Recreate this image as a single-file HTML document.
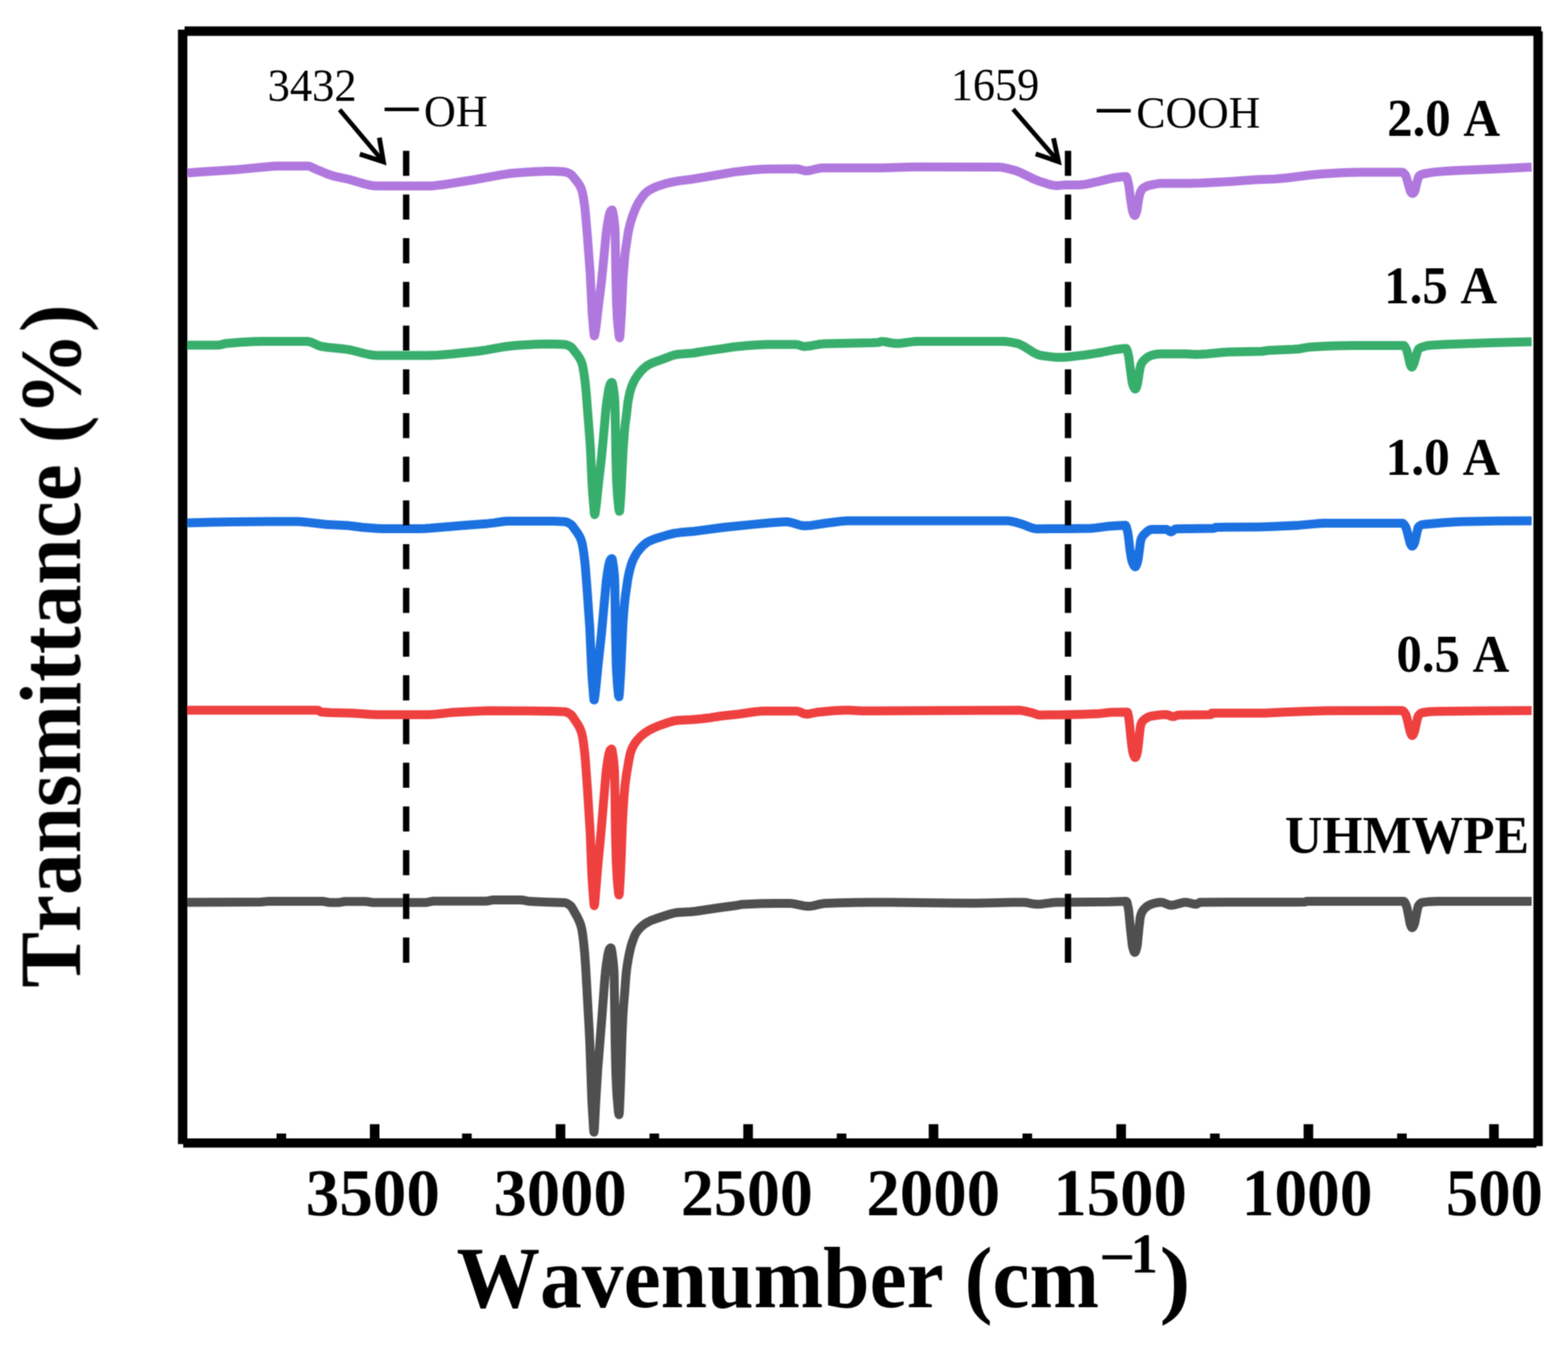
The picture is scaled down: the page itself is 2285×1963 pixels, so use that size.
<!DOCTYPE html>
<html><head><meta charset="utf-8"><title>FTIR spectra</title><style>html,body{margin:0;padding:0;background:#fff;overflow:hidden;}svg{display:block;} text{font-kerning:none;font-feature-settings:"kern" 0;}</style></head><body>
<svg width="2285" height="1963" viewBox="0 0 2285 1963">
<defs><filter id="soft" filterUnits="userSpaceOnUse" x="0" y="0" width="2285" height="1963"><feConvolveMatrix order="3" kernelMatrix="1 2 1 2 4 2 1 2 1" divisor="16" edgeMode="duplicate"/></filter></defs>
<rect width="2285" height="1963" fill="#fff"/>
<g filter="url(#soft)">
<path d="M273.0,252.0 L293.0,250.4 L340.5,247.6 L397.5,242.2 L404.5,242.0 L448.5,242.0 L450.5,242.3 L453.0,243.1 L462.5,247.6 L477.0,253.5 L484.0,255.9 L491.0,257.7 L509.0,261.5 L531.0,268.0 L540.5,270.1 L545.0,270.7 L549.5,271.0 L622.0,271.0 L628.0,270.9 L634.5,270.4 L649.0,268.7 L690.5,262.0 L730.0,254.8 L739.5,253.3 L748.5,252.3 L777.0,250.2 L797.0,249.5 L807.5,249.6 L817.5,250.1 L823.5,250.6 L827.0,251.5 L831.5,253.8 L833.5,255.4 L841.5,265.3 L844.5,269.8 L846.5,273.7 L848.0,277.7 L849.0,281.8 L850.5,289.9 L852.0,300.1 L853.0,308.7 L856.0,343.9 L860.0,397.0 L863.0,457.7 L865.5,486.4 L866.0,489.5 L866.5,488.7 L867.0,486.5 L869.0,473.1 L871.5,451.1 L876.0,414.6 L878.0,396.1 L883.0,343.8 L884.5,331.7 L887.0,316.9 L888.5,310.8 L889.5,308.1 L890.5,306.8 L891.5,306.1 L892.0,306.0 L892.5,306.9 L893.5,311.6 L895.0,321.1 L896.0,330.5 L896.5,340.3 L897.5,402.8 L898.5,443.0 L899.5,462.4 L900.5,474.9 L902.0,488.6 L902.5,491.4 L903.0,492.4 L903.5,488.9 L905.5,458.8 L907.5,414.8 L908.5,397.4 L910.5,373.2 L911.5,364.7 L915.5,338.2 L918.5,325.3 L921.5,315.7 L926.0,304.1 L928.5,298.8 L930.5,295.1 L934.0,289.7 L937.0,285.6 L940.0,282.1 L942.5,279.7 L945.5,277.6 L949.5,275.3 L954.0,273.1 L958.5,271.3 L964.0,269.4 L970.5,267.5 L977.0,265.9 L983.5,264.6 L990.5,263.4 L1006.0,261.5 L1015.0,260.1 L1070.0,250.6 L1095.0,247.7 L1112.0,246.4 L1124.0,246.2 L1160.5,246.0 L1164.0,246.5 L1171.5,248.6 L1175.0,249.0 L1180.0,248.5 L1192.5,245.5 L1195.5,245.0 L1198.0,244.8 L1284.0,244.8 L1323.5,243.5 L1335.5,243.3 L1456.0,243.4 L1460.0,243.9 L1465.0,244.8 L1480.0,248.6 L1488.0,251.8 L1505.5,260.4 L1513.0,263.6 L1529.5,268.9 L1534.0,269.9 L1538.0,270.4 L1542.5,270.4 L1553.5,269.4 L1572.5,269.5 L1578.0,269.1 L1584.0,268.1 L1601.0,264.4 L1616.5,260.6 L1622.5,259.3 L1634.0,257.7 L1641.0,257.2 L1641.5,257.5 L1642.5,259.8 L1644.0,265.8 L1645.0,270.7 L1647.5,290.0 L1650.0,306.1 L1650.5,308.0 L1652.0,312.0 L1653.0,313.7 L1653.5,314.0 L1654.0,313.8 L1655.0,312.3 L1656.5,308.0 L1657.0,305.7 L1659.0,292.0 L1661.0,282.5 L1662.5,278.8 L1664.5,275.5 L1665.5,274.4 L1667.5,273.1 L1672.0,271.0 L1675.0,270.1 L1679.5,269.1 L1687.5,267.6 L1692.0,267.3 L1733.5,267.3 L1750.5,266.8 L1790.5,264.7 L1827.5,262.1 L1859.0,260.8 L1876.0,259.3 L1907.5,255.3 L1920.0,254.0 L1929.0,253.3 L1955.5,251.8 L1969.5,251.3 L1982.0,251.0 L2043.0,251.0 L2044.0,251.2 L2045.5,252.2 L2047.0,253.8 L2048.5,255.8 L2050.0,260.0 L2055.0,278.0 L2055.5,279.0 L2057.0,281.1 L2058.0,281.9 L2058.5,282.0 L2059.0,281.9 L2060.0,281.1 L2061.5,279.0 L2062.0,277.8 L2064.5,267.0 L2066.5,259.8 L2067.5,257.2 L2068.0,256.5 L2070.0,255.0 L2072.0,254.1 L2074.0,253.5 L2081.5,252.1 L2089.5,250.9 L2098.0,250.1 L2109.0,249.3 L2128.0,248.2 L2178.0,246.3 L2232.0,243.4" fill="none" stroke="#B078DE" stroke-width="13" stroke-linejoin="round" stroke-linecap="butt"/>
<path d="M273.0,502.9 L318.5,502.9 L321.5,502.5 L327.5,500.9 L330.0,500.5 L351.0,498.7 L369.5,497.8 L381.0,497.6 L448.5,497.6 L451.0,498.0 L453.5,498.7 L464.0,503.5 L468.0,504.8 L478.0,506.3 L498.5,508.3 L507.0,509.4 L515.0,511.0 L530.5,515.0 L537.0,516.5 L543.5,517.5 L549.5,517.9 L623.5,517.9 L638.0,517.5 L648.0,516.8 L659.5,515.8 L697.0,511.7 L708.0,510.1 L736.0,505.2 L744.0,504.2 L751.0,503.5 L779.0,501.7 L799.0,501.2 L811.0,501.4 L822.5,502.0 L825.0,502.4 L827.5,503.2 L831.5,505.3 L833.5,506.9 L842.0,517.8 L845.0,522.5 L847.0,526.6 L848.5,530.9 L849.5,535.4 L851.0,544.0 L852.5,554.8 L854.0,569.3 L859.5,640.2 L860.5,655.3 L862.5,699.3 L863.5,717.5 L866.0,746.9 L866.5,750.0 L867.0,749.0 L867.5,746.4 L869.5,730.8 L872.0,706.4 L876.5,666.7 L878.5,646.4 L883.0,596.4 L884.0,587.3 L887.0,568.0 L888.0,563.5 L889.5,559.1 L890.5,557.9 L891.5,557.3 L892.0,557.5 L892.5,558.9 L893.5,564.1 L895.0,573.9 L896.0,585.1 L896.5,603.3 L897.5,665.0 L898.5,700.3 L900.0,724.6 L901.5,739.4 L902.0,743.0 L902.5,745.1 L903.0,744.9 L903.5,739.5 L905.0,717.6 L908.0,655.6 L910.0,628.4 L911.0,618.8 L913.0,604.1 L915.0,586.0 L917.5,573.3 L920.0,564.7 L921.5,560.8 L923.5,556.3 L925.5,552.6 L928.0,548.7 L931.5,544.0 L935.0,539.9 L938.5,536.4 L941.5,533.9 L943.5,532.5 L946.5,530.8 L952.5,528.1 L966.0,523.4 L978.0,518.7 L981.5,517.6 L985.0,516.8 L991.0,516.0 L1004.5,515.1 L1010.5,514.5 L1029.0,511.4 L1051.0,508.4 L1069.5,505.5 L1087.5,503.7 L1101.0,502.7 L1117.5,502.0 L1160.5,502.0 L1163.0,502.5 L1169.5,504.6 L1171.0,504.8 L1173.0,504.9 L1179.0,504.3 L1193.0,501.8 L1199.0,501.1 L1270.0,499.5 L1280.0,499.0 L1281.0,498.8 L1284.0,497.7 L1285.0,497.6 L1289.5,498.0 L1300.5,500.0 L1305.5,500.5 L1312.5,500.2 L1329.0,498.1 L1336.5,497.6 L1462.0,497.6 L1466.5,497.8 L1471.5,498.4 L1478.0,499.7 L1483.0,500.7 L1486.5,501.9 L1492.5,505.0 L1507.0,514.2 L1510.5,515.9 L1514.0,517.3 L1517.0,518.0 L1528.5,519.6 L1536.0,520.4 L1542.5,520.7 L1549.0,520.8 L1556.0,520.3 L1581.5,517.2 L1592.5,515.6 L1605.5,513.5 L1625.0,509.5 L1635.0,508.2 L1641.0,507.8 L1641.5,508.1 L1642.5,510.3 L1644.0,515.9 L1645.0,520.6 L1649.0,551.5 L1650.0,558.0 L1651.0,561.4 L1652.5,565.0 L1653.5,566.5 L1654.0,566.9 L1654.5,567.0 L1655.0,566.6 L1656.0,564.7 L1657.5,560.0 L1658.0,557.7 L1660.0,544.0 L1661.5,535.8 L1662.5,532.0 L1664.5,528.0 L1666.0,526.1 L1669.0,523.1 L1672.0,520.8 L1674.5,519.2 L1677.0,518.2 L1680.0,517.3 L1683.5,516.5 L1687.0,515.9 L1690.5,515.7 L1728.5,515.7 L1741.0,516.5 L1749.5,516.3 L1758.5,515.7 L1779.5,513.7 L1789.0,513.0 L1839.5,512.0 L1845.0,511.1 L1851.5,510.6 L1885.5,509.1 L1892.5,508.5 L1904.5,506.4 L1909.5,505.7 L1926.5,504.7 L1944.0,503.9 L1969.5,503.4 L2045.5,503.4 L2046.0,503.6 L2047.0,504.6 L2049.5,509.1 L2050.5,512.2 L2052.5,520.0 L2054.5,529.4 L2056.0,533.3 L2057.0,534.8 L2057.5,535.0 L2058.0,534.7 L2058.5,534.0 L2060.5,529.8 L2065.5,512.3 L2066.5,509.7 L2067.0,509.0 L2069.0,507.3 L2071.0,506.3 L2075.0,504.9 L2078.5,503.9 L2081.5,503.5 L2087.5,502.9 L2104.0,502.1 L2173.5,499.6 L2232.0,498.0" fill="none" stroke="#38AE6C" stroke-width="13" stroke-linejoin="round" stroke-linecap="butt"/>
<path d="M273.0,762.0 L310.0,761.1 L339.5,760.6 L394.5,760.1 L432.5,760.0 L438.5,760.3 L445.5,760.9 L475.0,764.3 L509.0,766.1 L528.0,768.5 L547.5,770.0 L558.0,770.4 L612.0,770.4 L619.0,770.2 L626.5,769.8 L678.0,765.4 L711.5,762.9 L719.0,762.1 L733.0,760.0 L739.0,759.5 L807.5,759.6 L823.0,760.3 L825.0,760.7 L827.0,761.4 L831.5,763.9 L833.5,765.7 L841.5,776.6 L844.5,781.6 L846.5,786.0 L848.0,790.5 L849.0,795.3 L850.5,804.5 L852.0,816.1 L853.0,825.9 L855.5,858.2 L859.5,915.6 L862.0,972.3 L863.0,990.0 L865.5,1019.9 L866.0,1020.1 L867.0,1014.0 L868.5,1000.6 L871.5,969.6 L876.5,923.5 L883.5,847.0 L885.0,836.1 L887.0,824.3 L888.0,820.0 L889.5,815.8 L890.5,814.6 L891.5,814.0 L892.0,814.3 L892.5,816.0 L894.5,829.7 L895.5,840.4 L896.0,852.7 L897.0,924.8 L898.0,966.8 L898.5,978.3 L899.5,994.4 L901.0,1010.8 L901.5,1014.2 L902.0,1015.5 L902.5,1012.0 L904.5,980.7 L907.5,914.2 L908.5,898.3 L910.0,880.2 L911.5,867.2 L915.0,843.1 L917.5,831.4 L920.0,822.5 L921.5,818.4 L923.5,813.9 L925.5,810.0 L928.0,805.9 L931.5,801.3 L935.0,797.2 L938.5,793.8 L941.5,791.4 L944.0,789.8 L947.5,788.0 L955.0,785.0 L973.5,779.4 L983.0,777.1 L990.5,776.1 L1011.5,774.3 L1045.5,769.7 L1055.0,768.5 L1098.5,764.1 L1123.5,761.7 L1134.5,760.9 L1143.5,760.5 L1147.5,760.5 L1151.0,761.0 L1155.0,762.0 L1166.0,765.4 L1169.5,766.1 L1172.5,766.3 L1177.5,766.1 L1182.5,765.6 L1203.0,762.5 L1221.0,760.2 L1228.0,759.4 L1234.0,759.0 L1468.5,759.0 L1473.5,759.6 L1479.0,760.8 L1490.5,764.2 L1501.0,768.4 L1504.5,769.6 L1508.0,770.4 L1511.0,770.7 L1552.5,770.5 L1590.0,770.0 L1596.5,769.4 L1614.0,767.1 L1630.0,765.9 L1640.0,765.6 L1640.5,765.9 L1641.5,768.1 L1643.5,776.0 L1644.5,782.7 L1646.5,800.0 L1648.5,812.7 L1649.5,817.4 L1651.0,821.4 L1652.5,824.4 L1653.5,825.6 L1654.5,826.0 L1655.0,825.7 L1656.0,824.0 L1658.0,818.0 L1659.0,812.0 L1662.0,789.2 L1662.5,787.0 L1663.5,784.3 L1664.5,782.3 L1666.0,780.1 L1670.5,775.7 L1672.5,774.0 L1674.5,772.7 L1676.5,771.8 L1678.0,771.5 L1699.5,771.4 L1701.0,772.0 L1705.0,774.6 L1706.5,775.0 L1708.0,774.5 L1712.0,771.3 L1713.5,770.7 L1768.5,770.0 L1769.5,769.8 L1771.5,768.5 L1775.5,768.4 L1835.0,767.9 L1856.0,767.3 L1893.5,765.4 L1919.0,763.1 L1929.0,762.5 L2043.5,762.4 L2044.5,762.8 L2046.0,764.2 L2047.5,766.4 L2049.0,769.1 L2050.5,774.1 L2055.0,791.8 L2056.5,794.7 L2057.5,795.8 L2058.0,796.0 L2058.5,795.8 L2059.5,794.8 L2061.0,792.0 L2061.5,790.7 L2066.5,769.0 L2067.0,768.0 L2069.0,766.2 L2070.5,765.3 L2072.5,764.6 L2077.5,763.9 L2106.0,761.6 L2127.5,760.3 L2180.5,759.3 L2232.0,759.0" fill="none" stroke="#1A71E0" stroke-width="13" stroke-linejoin="round" stroke-linecap="butt"/>
<path d="M273.0,1034.9 L462.5,1034.9 L464.0,1035.3 L467.5,1037.5 L469.0,1037.8 L481.5,1038.5 L512.5,1039.2 L538.5,1041.1 L548.5,1041.5 L626.0,1041.4 L636.0,1040.8 L655.5,1038.6 L663.5,1037.9 L693.0,1036.4 L712.5,1035.8 L756.5,1035.9 L806.0,1036.5 L823.0,1037.2 L825.0,1037.6 L827.0,1038.4 L831.5,1041.1 L832.5,1041.9 L833.5,1043.0 L841.5,1054.8 L844.5,1060.2 L846.5,1064.8 L848.0,1069.6 L849.0,1074.6 L850.5,1084.3 L852.0,1096.6 L853.0,1106.9 L856.0,1148.9 L860.0,1212.3 L862.0,1263.3 L863.0,1283.9 L865.5,1317.6 L866.0,1319.9 L866.5,1317.7 L867.0,1313.0 L871.0,1263.7 L876.5,1205.4 L883.0,1127.7 L884.5,1115.6 L886.5,1102.8 L887.5,1098.1 L889.0,1093.5 L890.0,1092.3 L891.0,1091.6 L891.5,1091.9 L892.0,1093.5 L893.0,1099.4 L894.5,1110.6 L895.5,1123.8 L896.0,1147.1 L897.0,1216.3 L898.0,1254.8 L899.5,1281.8 L901.0,1298.4 L901.5,1302.2 L902.0,1304.3 L902.5,1302.8 L904.0,1277.3 L905.0,1255.2 L907.0,1200.9 L908.0,1180.9 L909.5,1158.7 L911.0,1143.0 L913.0,1128.2 L916.5,1107.7 L918.0,1100.2 L919.0,1096.2 L920.5,1092.1 L922.5,1087.8 L924.5,1084.2 L926.5,1081.3 L929.5,1077.6 L933.0,1073.9 L936.5,1070.7 L940.0,1068.0 L943.5,1065.7 L947.5,1063.4 L952.0,1061.1 L956.5,1059.1 L962.5,1056.8 L973.5,1053.0 L978.0,1051.6 L982.0,1050.6 L988.0,1049.8 L1008.0,1048.8 L1022.5,1047.5 L1032.5,1046.3 L1050.5,1043.5 L1076.0,1040.8 L1100.0,1037.3 L1107.0,1036.6 L1113.0,1036.3 L1161.5,1036.3 L1164.5,1037.0 L1172.0,1040.2 L1175.0,1040.7 L1180.0,1040.2 L1189.0,1038.4 L1193.0,1037.8 L1214.5,1035.7 L1229.5,1034.9 L1238.0,1035.0 L1255.5,1035.9 L1263.0,1036.0 L1483.0,1034.9 L1488.0,1035.3 L1494.0,1036.4 L1506.0,1039.3 L1512.5,1041.6 L1515.0,1042.0 L1544.5,1041.7 L1576.5,1040.9 L1602.5,1039.9 L1617.0,1038.2 L1621.5,1037.9 L1642.5,1037.8 L1643.0,1037.9 L1643.5,1039.0 L1644.5,1043.7 L1645.5,1050.0 L1648.0,1075.0 L1649.5,1088.0 L1650.5,1094.8 L1651.0,1097.0 L1652.5,1101.4 L1653.5,1103.4 L1654.0,1103.9 L1654.5,1104.0 L1655.0,1103.6 L1656.0,1101.4 L1657.5,1096.0 L1658.0,1093.0 L1661.5,1061.4 L1662.5,1056.0 L1664.0,1052.6 L1665.5,1050.5 L1667.0,1049.0 L1670.5,1046.5 L1673.5,1044.9 L1677.0,1043.7 L1687.0,1042.2 L1694.0,1041.5 L1700.0,1041.4 L1702.0,1041.9 L1707.0,1043.9 L1709.5,1044.3 L1711.5,1044.0 L1716.0,1042.4 L1718.0,1042.0 L1764.0,1041.4 L1764.5,1041.4 L1765.5,1039.6 L1766.0,1039.2 L1843.0,1039.2 L1867.5,1037.9 L1898.0,1036.7 L1933.5,1035.7 L2043.5,1035.6 L2044.5,1036.0 L2046.0,1037.3 L2048.0,1040.2 L2049.0,1042.1 L2050.5,1047.4 L2055.0,1066.6 L2057.0,1071.1 L2057.5,1071.8 L2058.0,1072.0 L2058.5,1071.8 L2059.5,1070.4 L2061.5,1065.5 L2065.5,1047.5 L2066.5,1044.0 L2067.5,1042.4 L2069.5,1040.3 L2071.0,1039.2 L2073.0,1038.5 L2082.0,1037.2 L2092.5,1036.7 L2157.0,1035.9 L2232.0,1035.6" fill="none" stroke="#EF3F40" stroke-width="13" stroke-linejoin="round" stroke-linecap="butt"/>
<path d="M273.0,1314.9 L332.5,1314.8 L380.0,1314.5 L390.0,1313.6 L470.0,1313.6 L472.5,1313.8 L479.0,1315.0 L482.0,1315.2 L494.5,1315.2 L501.0,1314.0 L503.0,1313.8 L532.5,1313.8 L535.0,1314.0 L541.5,1315.0 L544.0,1315.2 L620.0,1315.2 L622.5,1315.0 L629.0,1313.6 L631.5,1313.3 L708.0,1313.3 L710.5,1313.1 L717.0,1311.7 L719.5,1311.4 L758.0,1311.4 L761.5,1311.7 L769.0,1313.2 L776.0,1313.7 L792.0,1314.5 L823.0,1315.5 L825.0,1316.0 L827.0,1316.9 L829.0,1318.2 L831.5,1320.2 L832.5,1321.1 L833.5,1322.5 L841.5,1336.7 L844.5,1343.2 L846.5,1348.8 L848.0,1355.0 L849.0,1361.4 L850.5,1373.4 L852.0,1388.8 L853.5,1409.7 L858.5,1499.1 L859.5,1518.9 L862.5,1604.8 L865.0,1645.6 L865.5,1650.0 L866.0,1646.9 L866.5,1639.0 L868.0,1608.5 L871.0,1559.2 L876.0,1497.2 L881.5,1425.0 L882.5,1414.4 L884.0,1402.7 L886.0,1390.3 L887.5,1384.6 L888.5,1382.5 L889.5,1381.6 L890.0,1381.3 L890.5,1381.6 L891.0,1383.1 L892.0,1389.1 L893.5,1400.6 L894.5,1411.1 L895.0,1420.4 L896.5,1522.3 L897.5,1564.7 L899.0,1595.2 L901.0,1618.6 L901.5,1622.4 L902.0,1624.4 L902.5,1622.1 L903.5,1600.6 L904.5,1573.8 L906.5,1507.6 L907.5,1485.2 L908.5,1468.2 L910.5,1444.5 L912.0,1423.9 L913.0,1414.0 L914.0,1406.6 L915.5,1397.6 L917.5,1387.6 L919.5,1379.2 L921.0,1374.1 L923.0,1368.3 L925.0,1363.3 L926.5,1360.3 L928.5,1357.3 L931.5,1353.7 L934.5,1350.6 L937.5,1348.0 L940.5,1345.9 L943.5,1344.1 L947.0,1342.3 L951.0,1340.6 L956.0,1338.8 L974.5,1332.8 L980.5,1331.0 L984.0,1330.3 L987.5,1329.8 L1006.0,1328.8 L1013.5,1328.0 L1049.0,1322.7 L1071.5,1319.8 L1081.5,1317.9 L1109.0,1316.8 L1131.5,1316.4 L1151.0,1316.4 L1157.0,1317.1 L1171.5,1320.1 L1175.0,1320.6 L1178.0,1320.7 L1181.0,1320.5 L1184.5,1320.1 L1197.0,1317.2 L1202.5,1316.4 L1223.0,1315.7 L1246.5,1315.2 L1271.0,1314.9 L1296.5,1315.0 L1383.5,1316.1 L1416.5,1316.3 L1435.0,1316.1 L1475.0,1315.1 L1491.0,1314.9 L1495.0,1315.2 L1506.0,1317.3 L1511.0,1317.8 L1518.0,1317.4 L1532.5,1315.5 L1539.0,1314.9 L1617.5,1314.2 L1641.0,1313.4 L1641.5,1313.5 L1642.0,1314.2 L1642.5,1315.6 L1644.0,1322.3 L1645.0,1328.4 L1647.5,1355.0 L1650.0,1377.4 L1650.5,1380.0 L1652.0,1385.3 L1653.0,1387.5 L1653.5,1388.0 L1654.0,1387.9 L1655.0,1386.3 L1656.0,1383.1 L1657.0,1379.0 L1657.5,1375.8 L1659.5,1355.0 L1661.5,1337.5 L1662.5,1333.4 L1664.0,1329.5 L1665.5,1326.9 L1667.5,1324.5 L1670.5,1321.7 L1673.5,1319.6 L1676.5,1318.2 L1680.0,1317.0 L1684.5,1315.8 L1688.5,1315.1 L1692.0,1314.9 L1694.0,1315.1 L1696.5,1315.9 L1703.0,1318.6 L1705.0,1319.1 L1706.5,1319.2 L1711.0,1318.7 L1722.5,1315.6 L1725.0,1315.1 L1727.5,1314.9 L1731.0,1315.2 L1739.0,1317.3 L1742.5,1317.8 L1744.0,1317.6 L1748.0,1315.4 L1750.0,1314.9 L1884.0,1314.7 L1902.0,1314.5 L1904.0,1313.4 L2045.5,1313.4 L2046.5,1314.0 L2047.5,1315.6 L2049.0,1318.8 L2050.0,1321.5 L2051.0,1325.8 L2055.0,1346.4 L2055.5,1348.0 L2056.5,1350.3 L2057.5,1351.8 L2058.0,1352.0 L2058.5,1351.8 L2059.5,1350.4 L2061.0,1347.0 L2061.5,1345.4 L2065.5,1325.4 L2066.5,1321.2 L2067.0,1320.0 L2069.0,1317.4 L2071.0,1315.8 L2072.5,1315.1 L2083.0,1313.9 L2095.0,1313.4 L2232.0,1313.4" fill="none" stroke="#505050" stroke-width="13" stroke-linejoin="round" stroke-linecap="butt"/>
<line x1="591.9" y1="219.7" x2="591.9" y2="1404" stroke="#000" stroke-width="9.3" stroke-dasharray="36.6 27.1"/>
<line x1="1556.4" y1="219.7" x2="1556.4" y2="1404" stroke="#000" stroke-width="9.3" stroke-dasharray="36.6 27.1"/>
<g fill="#000">
<rect x="269" y="38.5" width="1977" height="13.8"/>
<rect x="259.3" y="43.2" width="13.7" height="1624.1"/>
<rect x="267" y="1659" width="1972" height="13.4"/>
<rect x="2234.6" y="45.6" width="13.6" height="1624.7"/>
<rect x="539.0" y="1638.3" width="14" height="22"/>
<rect x="809.8" y="1638.3" width="14" height="22"/>
<rect x="1083.2" y="1638.3" width="14" height="22"/>
<rect x="1353.4" y="1638.3" width="14" height="22"/>
<rect x="1626.8" y="1638.3" width="14" height="22"/>
<rect x="1899.7" y="1638.3" width="14" height="22"/>
<rect x="2170.1" y="1638.3" width="14" height="22"/>
<rect x="403.0" y="1651.9" width="14" height="9"/>
<rect x="673.4" y="1651.9" width="14" height="9"/>
<rect x="946.5" y="1651.9" width="14" height="9"/>
<rect x="1219.4" y="1651.9" width="14" height="9"/>
<rect x="1490.1" y="1651.9" width="14" height="9"/>
<rect x="1763.4" y="1651.9" width="14" height="9"/>
<rect x="2036.0" y="1651.9" width="14" height="9"/>
</g>
<line x1="494.9" y1="159.8" x2="558.8" y2="235.8" stroke="#000" stroke-width="6.5"/><polyline points="552.8,200.6 558.8,235.8 524.4,224.6" fill="none" stroke="#000" stroke-width="7" stroke-linejoin="miter" stroke-miterlimit="10"/>
<line x1="1476.4" y1="159.2" x2="1542.6" y2="235.6" stroke="#000" stroke-width="6.5"/><polyline points="1535.3,201.4 1542.6,235.6 1509.3,224.3" fill="none" stroke="#000" stroke-width="7" stroke-linejoin="miter" stroke-miterlimit="10"/>
<text transform="translate(389.99,146.50) scale(0.9686,1)" font-family="Liberation Serif, Times New Roman, serif" font-size="67">3432</text>
<text transform="translate(1385.64,146.20) scale(0.9620,1)" font-family="Liberation Serif, Times New Roman, serif" font-size="67">1659</text>
<text transform="translate(560.84,183.90) scale(0.4743,1)" font-family="Liberation Serif, Times New Roman, serif" font-size="104">—</text>
<text transform="translate(1598.54,185.90) scale(0.4714,1)" font-family="Liberation Serif, Times New Roman, serif" font-size="104">—</text>
<text transform="translate(617.76,184.20) scale(0.9845,1)" font-family="Liberation Serif, Times New Roman, serif" font-size="65.5">OH</text>
<text transform="translate(1655.88,186.40) scale(0.9589,1)" font-family="Liberation Serif, Times New Roman, serif" font-size="66.5">COOH</text>
<text transform="translate(2021.49,198.00) scale(0.9561,1)" font-family="Liberation Serif, Times New Roman, serif" font-weight="bold" font-size="77.5">2.0 A</text>
<text transform="translate(2017.06,442.10) scale(0.9574,1)" font-family="Liberation Serif, Times New Roman, serif" font-weight="bold" font-size="77.5">1.5 A</text>
<text transform="translate(2018.88,692.20) scale(0.9695,1)" font-family="Liberation Serif, Times New Roman, serif" font-weight="bold" font-size="77.5">1.0 A</text>
<text transform="translate(2034.98,979.00) scale(0.9555,1)" font-family="Liberation Serif, Times New Roman, serif" font-weight="bold" font-size="77.5">0.5 A</text>
<text transform="translate(1872.62,1242.60) scale(0.9724,1)" font-family="Liberation Serif, Times New Roman, serif" font-weight="bold" font-size="77.5">UHMWPE</text>
<text transform="translate(445.52,1771.00) scale(1.0088,1)" font-family="Liberation Serif, Times New Roman, serif" font-weight="bold" font-size="97">3500</text>
<text transform="translate(719.25,1771.00)" font-family="Liberation Serif, Times New Roman, serif" font-weight="bold" font-size="97">3000</text>
<text transform="translate(992.26,1771.00) scale(0.9912,1)" font-family="Liberation Serif, Times New Roman, serif" font-weight="bold" font-size="97">2500</text>
<text transform="translate(1262.50,1771.00) scale(1.0057,1)" font-family="Liberation Serif, Times New Roman, serif" font-weight="bold" font-size="97">2000</text>
<text transform="translate(1534.90,1771.00) scale(1.0042,1)" font-family="Liberation Serif, Times New Roman, serif" font-weight="bold" font-size="97">1500</text>
<text transform="translate(1809.57,1771.00) scale(0.9817,1)" font-family="Liberation Serif, Times New Roman, serif" font-weight="bold" font-size="97">1000</text>
<text transform="translate(2107.02,1771.00) scale(0.9723,1)" font-family="Liberation Serif, Times New Roman, serif" font-weight="bold" font-size="97">500</text>
<text transform="translate(665.28,1904.70) scale(0.9511,1)" font-family="Liberation Serif, Times New Roman, serif" font-weight="bold" font-size="128">Wavenumber (cm</text>
<text transform="translate(1601.38,1859.60) scale(1.1249,1)" font-family="Liberation Serif, Times New Roman, serif" font-weight="bold" font-size="83">−</text>
<text transform="translate(1647.61,1853.80) scale(0.9621,1)" font-family="Liberation Serif, Times New Roman, serif" font-weight="bold" font-size="83">1</text>
<text transform="translate(1689.83,1904.70) scale(1.0586,1)" font-family="Liberation Serif, Times New Roman, serif" font-weight="bold" font-size="128">)</text>
<text transform="translate(116.6,1439.3) rotate(-90) scale(0.960,1)" font-family="Liberation Serif, Times New Roman, serif" font-weight="bold" font-size="126.6">Transmittance (%)</text>
</g>
</svg>
</body></html>
